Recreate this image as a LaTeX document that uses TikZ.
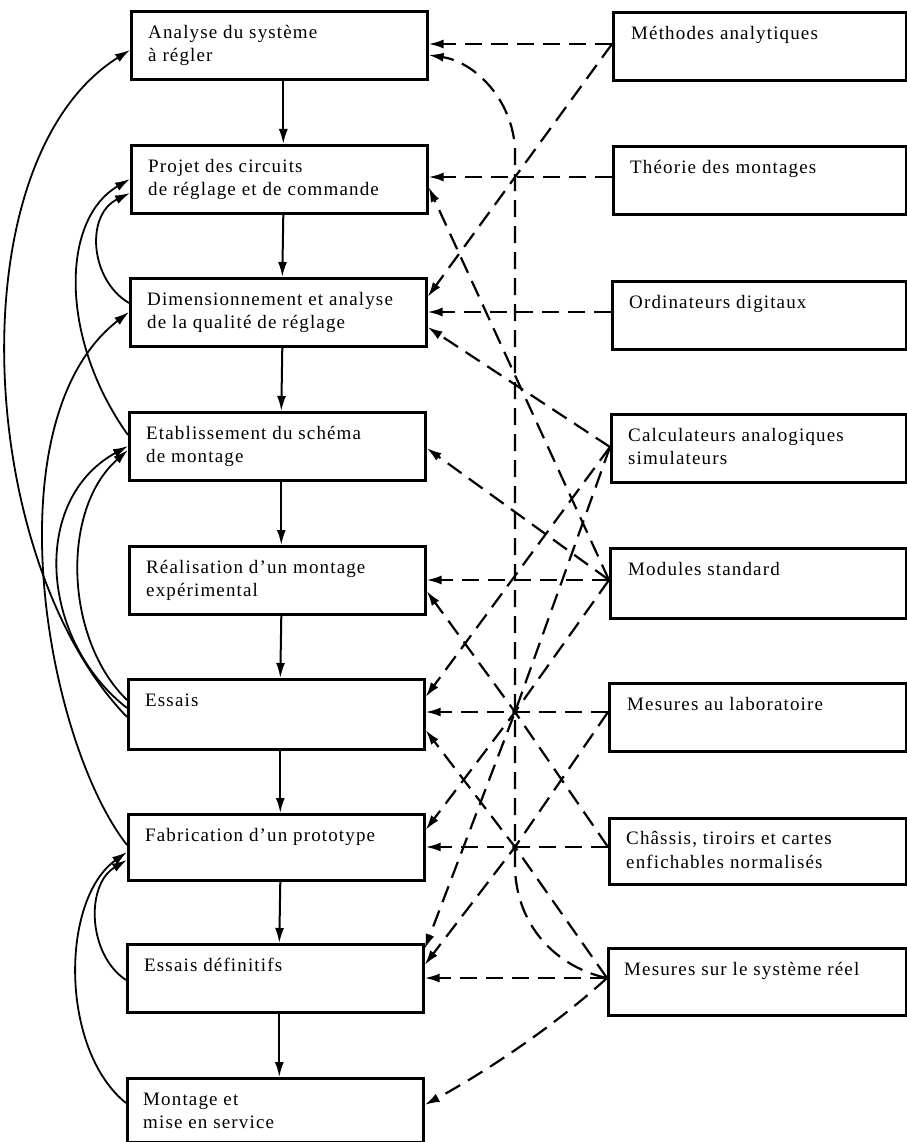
\documentclass[tikz,border=0pt]{standalone}
\usepackage{fontspec}
\setmainfont{Liberation Serif}[LetterSpace=6]
\usetikzlibrary{arrows.meta,calc}
\newcommand\labfont{\fontsize{19}{23.5}\selectfont}
\begin{document}
\begin{tikzpicture}[x=1pt,y=-1pt,
  box/.style={draw, line width=2.6pt, rectangle, inner sep=0pt, minimum height=68pt, anchor=north west},
  txt/.style={anchor=north west, inner sep=0pt, align=left, font=\labfont},
  flow/.style={line width=2pt, -{Latex[length=15pt,width=9pt]}},
  fb/.style={line width=1.8pt, -{Latex[length=15pt,width=9pt]}},
  dsh/.style={line width=2.2pt, dash pattern=on 17pt off 9pt, -{Latex[length=15pt,width=9pt]}},
]
\useasboundingbox (0,0) rectangle (906,1142);
% left column
\node[box, minimum width=296pt] (a1) at (130,10) {};
\node[box, minimum width=296pt] (a2) at (130,144) {};
\node[box, minimum width=296pt] (a3) at (129,277) {};
\node[box, minimum width=296pt] (a4) at (128,411) {};
\node[box, minimum width=296pt] (a5) at (128,545) {};
\node[box, minimum width=296pt, minimum height=70pt] (a6) at (127,678) {};
\node[box, minimum width=296pt, minimum height=66pt] (a7) at (127,813) {};
\node[box, minimum width=296pt] (a8) at (126,943) {};
\node[box, minimum width=296pt, minimum height=64pt] (a9) at (126,1077) {};
% right column
\node[box, minimum width=293pt] (r1) at (612,11) {};
\node[box, minimum width=293pt] (r2) at (612,145) {};
\node[box, minimum width=294pt] (r3) at (611,280) {};
\node[box, minimum width=295pt] (r4) at (610,413) {};
\node[box, minimum width=296pt, minimum height=70pt] (r5) at (609,547) {};
\node[box, minimum width=297pt] (r6) at (608,682) {};
\node[box, minimum width=297pt, minimum height=66pt] (r7) at (608,817) {};
\node[box, minimum width=298pt, minimum height=67pt] (r8) at (607,947) {};
% texts
\node[txt] (t1) at ($(a1.north west)+(18,11.5)$) {\strut Analyse du système\\à régler};
\node[txt] (t2) at ($(a2.north west)+(18,11.5)$) {\strut Projet des circuits\\de réglage et de commande};
\node[txt] (t3) at ($(a3.north west)+(18,11.5)$) {\strut Dimensionnement et analyse\\de la qualité de réglage};
\node[txt] (t4) at ($(a4.north west)+(18,11.5)$) {\strut Etablissement du schéma\\de montage};
\node[txt] (t5) at ($(a5.north west)+(18,11.5)$) {\strut Réalisation d’un montage\\expérimental};
\node[txt] (t6) at ($(a6.north west)+(18,12)$) {\strut Essais};
\node[txt] (t7) at ($(a7.north west)+(18,11.5)$) {\strut Fabrication d’un prototype};
\node[txt] (t8) at ($(a8.north west)+(18,12)$) {\strut Essais définitifs};
\node[txt] (t9) at ($(a9.north west)+(17,11.5)$) {\strut Montage et\\mise en service};
\node[txt] (s1) at ($(r1.north west)+(19,11.5)$) {\strut Méthodes analytiques};
\node[txt] (s2) at ($(r2.north west)+(18,11.5)$) {\strut Théorie des montages};
\node[txt] (s3) at ($(r3.north west)+(18,11.5)$) {\strut Ordinateurs digitaux};
\node[txt] (s4) at ($(r4.north west)+(18,11.5)$) {\strut Calculateurs analogiques\\simulateurs};
\node[txt] (s5) at ($(r5.north west)+(19,11.5)$) {\strut Modules standard};
\node[txt] (s6) at ($(r6.north west)+(19,11.5)$) {\strut Mesures au laboratoire};
\node[txt] (s7) at ($(r7.north west)+(18,11)$) {\strut Châssis, tiroirs et cartes\\enfichables normalisés};
\node[txt] (s8) at ($(r8.north west)+(17,11.5)$) {\strut Mesures sur le système réel};
% main flow
\foreach \i/\j in {a1/a2,a2/a3,a3/a4,a4/a5,a5/a6,a6/a7,a7/a8,a8/a9}
  \draw[flow] ($(\i.south)+(4,0)$) -- ($(\j.north)+(4,0)$);
% feedback curves
\draw[fb] ($(a6.north west)+(0,39)$) .. controls (-25,560) and (-45,160) .. ($(a1.north west)+(0,40)$);
\draw[fb] ($(a4.north west)+(0,24)$) .. controls (60,340) and (60,220) .. ($(a2.north west)+(0,35)$);
\draw[fb] ($(a3.north west)+(0,26)$) .. controls (90,280) and (85,215) .. ($(a2.north west)+(0,49)$);
\draw[fb] ($(a7.north west)+(0,32)$) .. controls (45,740) and (-10,420) .. ($(a3.north west)+(0,35)$);
\draw[fb] ($(a6.north west)+(0,30)$) .. controls (40,640) and (30,500) .. ($(a4.north west)+(0,35)$);
\draw[fb] ($(a6.north west)+(0,22)$) .. controls (65,640) and (60,510) .. ($(a4.north west)+(0,39)$);
\draw[fb] ($(a9.north west)+(0,26)$) .. controls (60,1050) and (60,900) .. ($(a7.north west)+(0,39)$);
\draw[fb] ($(a8.north west)+(0,37)$) .. controls (88,955) and (85,885) .. ($(a7.north west)+(0,47)$);
% anchor points on the right boxes
\path (r1.north west) ++(0,33) coordinate (r1p);
\path (r2.north west) ++(0,32) coordinate (r2p);
\path (r3.north west) ++(0,32) coordinate (r3p);
\path (r4.north west) ++(0,34) coordinate (r4p);
\path (r5.north west) ++(0,33) coordinate (r5p);
\path (r6.north west) ++(0,30) coordinate (r6p);
\path (r7.north west) ++(0,30) coordinate (r7p);
\path (r8.north west) ++(0,31) coordinate (r8p);
\coordinate (j1) at (515,712);
\coordinate (j2) at (515,847);
% dashed connectors
\draw[dsh] (r1p) -- ($(a1.north east)+(0,34)$);
\draw[dsh] (r1p) -- ($(a3.north east)+(0,20)$);
\draw[dsh] (r2p) -- ($(a2.north east)+(0,33)$);
\draw[dsh] (r3p) -- ($(a3.north east)+(0,35)$);
\draw[dsh] (r4p) -- ($(a3.north east)+(0,50)$);
\draw[dsh] (r5p) -- ($(a2.north east)+(0,43)$);
\draw[dsh] (r5p) -- ($(a4.north east)+(0,37)$);
\draw[dsh] (r5p) -- ($(a5.north east)+(0,35)$);
\draw[dsh] (r5p) -- (j1) -- ($(a7.north east)+(0,17)$);
\draw[dsh] (r4p) -- ($(a6.north east)+(0,19)$);
\draw[dsh] (r4p) -- (j1) -- ($(a8.north east)+(0,6)$);
\draw[dsh] (r6p) -- ($(a6.north east)+(0,34)$);
\draw[dsh] (r6p) -- (j2) -- ($(a8.north east)+(0,22)$);
\draw[dsh] (r7p) -- (j1) -- ($(a5.north east)+(0,46)$);
\draw[dsh] (r7p) -- ($(a7.north east)+(0,34)$);
\draw[dsh] (r8p) -- (j2) -- ($(a6.north east)+(0,52)$);
\draw[dsh] (r8p) -- ($(a8.north east)+(0,35)$);
\draw[dsh] (r8p) .. controls (550,1030) and (480,1075) .. ($(a9.north east)+(0,28)$);
\draw[dsh] (r8p) .. controls (560,968) and (518,930) .. (515,870) -- (515,150)
  .. controls (513,100) and (475,62) .. ($(a1.north east)+(0,45)$);
\fill (j1) circle[radius=2.8pt];
\fill (j2) circle[radius=2.8pt];
\end{tikzpicture}
\end{document}
